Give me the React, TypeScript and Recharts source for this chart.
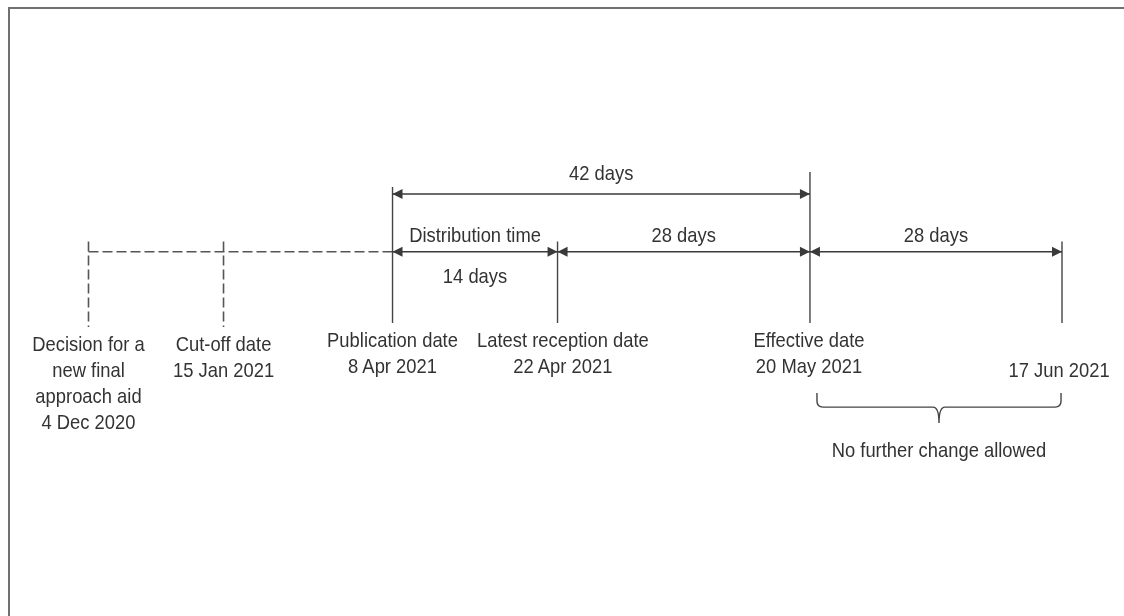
import { ComposedChart, XAxis, YAxis, ReferenceLine, ReferenceArea, Scatter } from "recharts";

// timeline events: schematic position along the line (0 = decision, 100 = end of freeze)
const eventLabels = [
  ["Decision for a", "new final", "approach aid", "4 Dec 2020"],
  ["Cut-off date", "15 Jan 2021"],
  ["Publication date", "8 Apr 2021"],
  ["Latest reception date", "22 Apr 2021"],
  ["Effective date", "20 May 2021"],
  ["17 Jun 2021"],
];
const eventPos = [0, 13.87, 31.23, 48.18, 74.11, 100];
const eventPlanned = [true, true, false, false, false, false];
const tickTop = [116.75, 116.75, 89.5, 116.75, 82, 116.75];
const tickBottom = [159.5, 159.5, 157.5, 157.5, 157.5, 157.5];
const labelTop = [168, 168, 166, 166, 166, 181];
const labelShift = [0, 0, 0, 0.55, -0.1, -0.3];

// dimension arrows between events
const spanLabels = ["42 days", "Distribution time", "28 days", "28 days"];
const spanFrom = [2, 2, 3, 4];
const spanTo = [4, 3, 4, 5];
const spanRow = [93, 121.85, 121.85, 121.85];
const spanLabelRow = [82.5, 113.5, 113.5, 113.5];
const spanNotes = ["", "14 days", "", ""];
const spanNoteRow = 134.3;

// freeze brace under the last span
const braceFrom = 74.83;
const braceTo = 99.9;
const braceTop = 192.5;
const braceTip = 207.5;
const braceLabel = "No further change allowed";
const braceLabelRow = 221;

const LINE = "#3a3a3a";
const TEXT = "#333333";
const FONT = "'Liberation Sans', Arial, sans-serif";

type LabelPoint = { x: number; y: number; lines: string[] };

const labelData: LabelPoint[] = [
  ...eventLabels.map((lines, i) => ({ x: eventPos[i] + labelShift[i], y: labelTop[i], lines })),
  ...spanLabels.map((t, i) => ({
    x: (eventPos[spanFrom[i]] + eventPos[spanTo[i]]) / 2,
    y: spanLabelRow[i],
    lines: [t],
  })),
  ...spanNotes
    .map((t, i) => ({ x: (eventPos[spanFrom[i]] + eventPos[spanTo[i]]) / 2, y: spanNoteRow, lines: [t] }))
    .filter((d) => d.lines[0]),
  { x: (braceFrom + braceTo) / 2, y: braceLabelRow, lines: [braceLabel] },
];

function LabelText(props: any) {
  const { cx, cy, payload } = props;
  if (cx == null || cy == null) return null;
  return (
    <g transform={`translate(${cx},${cy}) scale(0.92,1)`}>
      {payload.lines.map((line: string, i: number) => (
        <text
          key={i}
          x={0}
          y={i * 26}
          textAnchor="middle"
          dominantBaseline="central"
          fontSize={20}
          fontFamily={FONT}
          fill={TEXT}
        >
          {line}
        </text>
      ))}
    </g>
  );
}

function DoubleArrow(props: any) {
  const { x1, y1, x2, y2 } = props;
  const left = Math.min(x1, x2);
  const right = Math.max(x1, x2);
  const y = y1;
  return (
    <g>
      <line x1={left} y1={y} x2={right} y2={y2} stroke={LINE} strokeWidth={1.6} />
      <polygon points={`${left},${y} ${left + 10},${y - 5} ${left + 10},${y + 5}`} fill={LINE} />
      <polygon points={`${right},${y} ${right - 10},${y - 5} ${right - 10},${y + 5}`} fill={LINE} />
    </g>
  );
}

function Brace(props: any) {
  const { x, y, width, height } = props;
  const r = 6;
  const mid = y + height * 0.47;
  const cx = x + width / 2;
  const d = [
    `M ${x} ${y}`,
    `L ${x} ${mid - r}`,
    `Q ${x} ${mid} ${x + r} ${mid}`,
    `L ${cx - 6} ${mid}`,
    `Q ${cx} ${mid} ${cx} ${y + height}`,
    `Q ${cx} ${mid} ${cx + 6} ${mid}`,
    `L ${x + width - r} ${mid}`,
    `Q ${x + width} ${mid} ${x + width} ${mid - r}`,
    `L ${x + width} ${y}`,
  ].join(" ");
  return <path d={d} fill="none" stroke="#444" strokeWidth={1.4} />;
}

export default function App() {
  return (
    <div style={{ position: "relative", width: 1108, height: 600 }}>
      {/* frame runs off the right and bottom of the page */}
      <div
        style={{
          position: "fixed",
          left: 8,
          top: 7,
          width: 1130,
          height: 620,
          boxSizing: "border-box",
          borderLeft: "2px solid #707070",
          borderTop: "2px solid #707070",
          pointerEvents: "none",
        }}
      />
      <div style={{ position: "absolute", left: 0, top: 0 }}>
        <ComposedChart width={1108} height={600} margin={{ top: 0, right: 54, bottom: 0, left: 80.5 }}>
          <XAxis type="number" dataKey="x" domain={[0, 100]} hide />
          <YAxis type="number" dataKey="y" domain={[0, 300]} reversed hide />

          {/* planning stage: dashed line up to publication */}
          <ReferenceLine
            segment={[
              { x: eventPos[0], y: spanRow[1] },
              { x: eventPos[2], y: spanRow[1] },
            ]}
            stroke="#555"
            strokeWidth={1.6}
            strokeDasharray="10 4"
            ifOverflow="visible"
          />

          {eventPos.map((p, i) => (
            <ReferenceLine
              key={`tick-${i}`}
              segment={[
                { x: p, y: tickTop[i] },
                { x: p, y: tickBottom[i] },
              ]}
              stroke={eventPlanned[i] ? "#555" : "#444"}
              strokeWidth={eventPlanned[i] ? 1.6 : 1.4}
              strokeDasharray={eventPlanned[i] ? "10 4" : undefined}
              ifOverflow="visible"
            />
          ))}

          {spanLabels.map((_, i) => (
            <ReferenceLine
              key={`span-${i}`}
              segment={[
                { x: eventPos[spanFrom[i]], y: spanRow[i] },
                { x: eventPos[spanTo[i]], y: spanRow[i] },
              ]}
              shape={DoubleArrow}
              ifOverflow="visible"
            />
          ))}

          <ReferenceArea
            x1={braceFrom}
            x2={braceTo}
            y1={braceTop}
            y2={braceTip}
            shape={Brace}
            ifOverflow="visible"
          />

          <Scatter data={labelData} shape={LabelText} isAnimationActive={false} />
        </ComposedChart>
      </div>
    </div>
  );
}
